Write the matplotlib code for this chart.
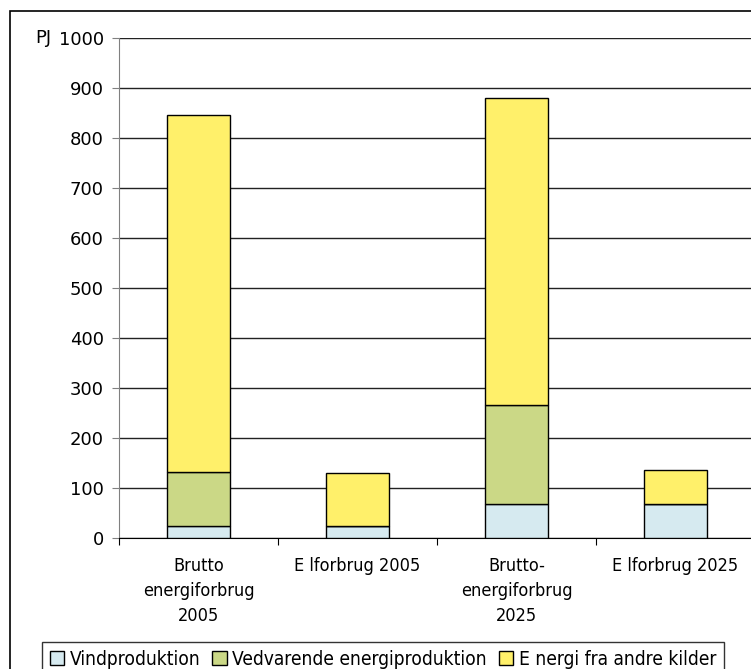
import numpy as np
import matplotlib.pyplot as plt
from matplotlib.patches import Rectangle

categories = ["Brutto\nenergiforbrug\n2005", "E lforbrug 2005",
              "Brutto-\nenergiforbrug\n2025", "E lforbrug 2025"]
vind = [25, 25, 68, 68]
vedvarende = [107, 0, 198, 0]
andre = [714, 105, 614, 69]
yticks = [0, 100, 200, 300, 400, 500, 600, 700, 800, 900, 1000]

plt.rcParams['font.family'] = ['DejaVu Sans']
plt.rcParams['font.stretch'] = 'condensed'

fig = plt.figure(figsize=(7.51, 6.69), dpi=100)
fig.patches.append(Rectangle((10/751, -0.1), 1.1, 1 - 11/669 + 0.1,
                             transform=fig.transFigure, fill=False,
                             edgecolor='black', linewidth=1.2))

ax = fig.add_axes([119/751, 131/669, 636/751, 500/669])
x = np.arange(len(categories))
w = 0.40
ax.bar(x, vind, w, color='#D6EAF0', edgecolor='black', linewidth=1, label='Vindproduktion', zorder=3)
ax.bar(x, vedvarende, w, bottom=vind, color='#CBD886', edgecolor='black', linewidth=1,
       label='Vedvarende energiproduktion', zorder=3)
bottom2 = np.array(vind) + np.array(vedvarende)
ax.bar(x, andre, w, bottom=bottom2, color='#FFF06A', edgecolor='black', linewidth=1,
       label='E nergi fra andre kilder', zorder=3)

ax.set_xlim(-0.5, 3.5)
ax.set_ylim(0, 1000)
ax.set_yticks(yticks)
ax.set_yticklabels([str(v) for v in yticks], fontsize=13, fontstretch='normal')
ax.yaxis.grid(True, color='#222222', linewidth=1)
ax.set_axisbelow(True)
ax.tick_params(axis='y', length=5, color='gray', pad=6)
ax.set_xticks(np.arange(-0.5, 4, 1))
ax.set_xticklabels([])
ax.set_xticks(x, minor=True)
ax.set_xticklabels(categories, minor=True, fontsize=13, linespacing=1.5)
ax.tick_params(axis='x', which='major', length=5, color='black')
ax.tick_params(axis='x', which='minor', length=0, pad=14)
for s in ['top', 'right']:
    ax.spines[s].set_visible(False)
ax.spines['left'].set_color('gray')
ax.spines['bottom'].set_color('black')

fig.text(35/751, 1 - 38/669, 'PJ', fontsize=13, va='center', ha='left', fontstretch='normal')

leg = fig.legend(loc='lower center', bbox_to_anchor=(383/751, -17/669), ncol=3,
                 prop={'size': 13.8, 'stretch': 'condensed'}, frameon=True, fancybox=False,
                 edgecolor='black', handlelength=0.75, handleheight=0.75, handletextpad=0.3,
                 columnspacing=0.6, borderpad=0.4)
leg.get_frame().set_linewidth(1)

fig.savefig('out.png', dpi=100)
